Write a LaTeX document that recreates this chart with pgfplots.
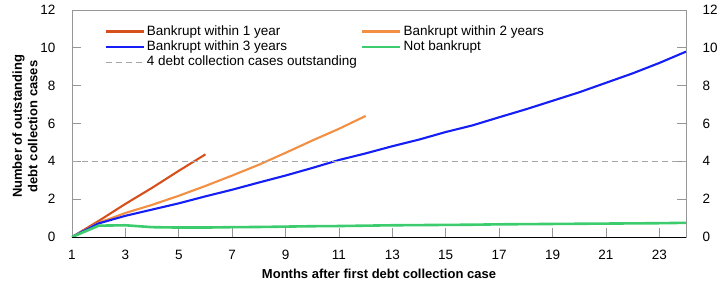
\documentclass[border=0pt]{standalone}
\usepackage{fontspec}
\setmainfont{Liberation Sans}
\usepackage{pgfplots}
\pgfplotsset{compat=1.18}
\definecolor{cred}{RGB}{214,80,30}
\definecolor{corange}{RGB}{243,143,66}
\definecolor{cblue}{RGB}{20,30,245}
\definecolor{cgreen}{RGB}{60,204,110}
\definecolor{cgray}{RGB}{165,165,165}
\definecolor{caxis}{RGB}{150,150,150}
\begin{document}
\begin{tikzpicture}[font=\fontsize{13}{15.6}\selectfont]
\begin{axis}[
  name=main,
  scale only axis, width=614pt, height=227pt,
  xmin=1, xmax=24, ymin=0, ymax=12,
  xtick={1,3,...,23}, ytick={0,2,...,12},
  tick align=inside, major tick length=9pt,
  tick style={caxis, line width=0.8pt},
  axis line style={caxis, line width=0.8pt},
  ytick pos=both, xtick pos=bottom, yticklabel pos=left,
  /pgf/number format/assume math mode=true,
  tick label style={font=\fontsize{13.5}{16}\selectfont},
  yticklabel style={xshift=-13pt},
  xticklabel style={yshift=-10pt},
  xlabel={\bfseries Months after first debt collection case},
  xlabel style={yshift=-2pt},
  ylabel={\bfseries Number of outstanding\\\bfseries debt collection cases},
  ylabel style={align=center, yshift=-4pt, xshift=-3pt},
  legend columns=2,
  legend cell align=left,
  legend image code/.code={\draw[#1] (0pt,0pt) -- (38pt,0pt);},
  legend style={draw=none, fill=none, at={(0.048,0.948)}, anchor=north west,
    row sep=0.3pt, font=\fontsize{13.5}{16}\selectfont,
    nodes={inner sep=1pt, text height=10pt, text depth=3pt},
    /tikz/every odd column/.append style={column sep=1pt},
    /tikz/every even column/.append style={column sep=3pt}},
]
\addplot[cred, line width=2.1pt] coordinates {(1,0)(2,0.85)(3,1.75)(4,2.6)(5,3.5)(6,4.37)};
\addlegendentry{Bankrupt within 1 year}
\addplot[corange, line width=2.1pt] coordinates {(1,0)(2,0.75)(3,1.27)(4,1.7)(5,2.18)(6,2.7)(7,3.25)(8,3.82)(9,4.45)(10,5.1)(11,5.72)(12,6.4)};
\addlegendentry{Bankrupt within 2 years}
\addplot[cblue, line width=2.1pt] coordinates {(1,0)(2,0.72)(3,1.12)(4,1.45)(5,1.78)(6,2.15)(7,2.5)(8,2.88)(9,3.25)(10,3.65)(11,4.07)(12,4.42)(13,4.8)(14,5.15)(15,5.55)(16,5.9)(17,6.33)(18,6.75)(19,7.2)(20,7.65)(21,8.15)(22,8.65)(23,9.2)(24,9.8)};
\addlegendentry{Bankrupt within 3 years}
\addplot[cgreen, line width=2.6pt] coordinates {(1,0)(2,0.6)(3,0.62)(4,0.52)(5,0.5)(6,0.5)(7,0.52)(8,0.53)(9,0.55)(10,0.57)(11,0.58)(12,0.6)(13,0.62)(14,0.63)(15,0.64)(16,0.65)(17,0.67)(18,0.68)(19,0.69)(20,0.7)(21,0.71)(22,0.72)(23,0.73)(24,0.75)};
\addlegendentry{Not bankrupt}
\addplot[cgray, line width=1pt, dash pattern=on 6pt off 4pt] coordinates {(1,4)(24,4)};
\addlegendentry{4 debt collection cases outstanding}
\draw[black, line width=1pt] (rel axis cs:0,0) -- (rel axis cs:1,0);
\end{axis}
\begin{axis}[
  scale only axis, width=614pt, height=227pt,
  xmin=1, xmax=24, ymin=0, ymax=12,
  ytick={0,2,...,12},
  hide x axis,
  axis y line*=right,
  y axis line style={draw=none},
  major tick length=0pt,
  /pgf/number format/assume math mode=true,
  yticklabel style={font=\fontsize{13.5}{16}\selectfont, xshift=13pt},
]
\end{axis}
\path (main.south west) ++(-72pt,-64pt) rectangle ++(722pt,301pt);
\end{tikzpicture}
\end{document}
